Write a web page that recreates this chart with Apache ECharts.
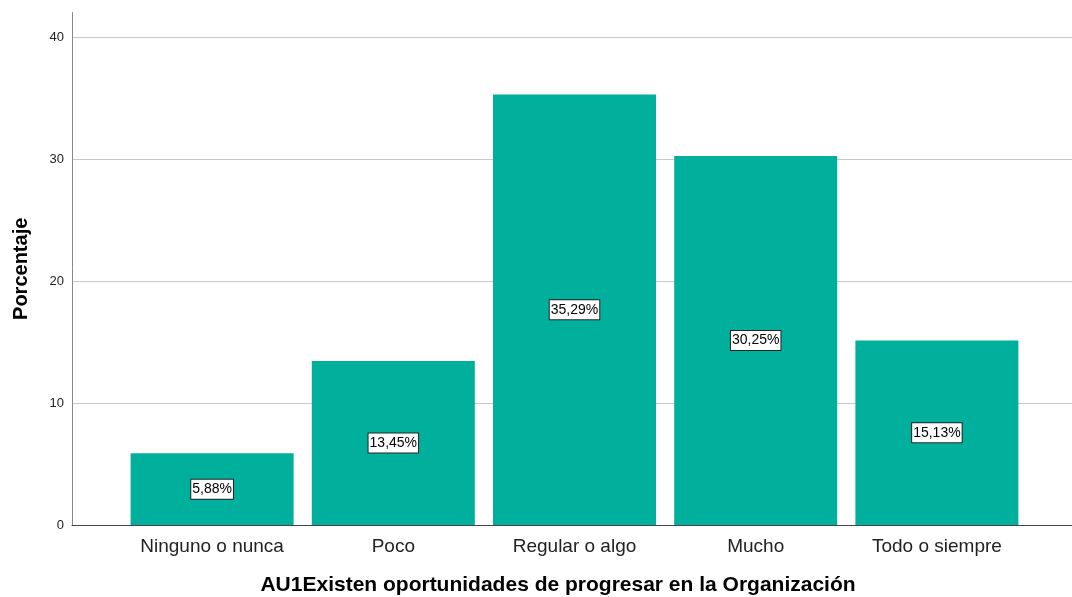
<!DOCTYPE html>
<html>
<head>
<meta charset="utf-8">
<script src="https://cdn.jsdelivr.net/npm/echarts@6/dist/echarts.min.js"></script>
<style>
  html, body { margin: 0; padding: 0; background: #fff; }
  #chart { width: 1072px; height: 597px; }
</style>
</head>
<body>
<div id="chart"></div>
<script>
var categories = ['Ninguno o nunca', 'Poco', 'Regular o algo', 'Mucho', 'Todo o siempre'];
var percentages = [5.88, 13.45, 35.29, 30.25, 15.13];
var yTicks = [0, 10, 20, 30, 40];

var font = 'Liberation Sans, Arial, sans-serif';
var myChart = echarts.init(document.getElementById('chart'));

var option = {
  backgroundColor: '#fff',
  animation: false,
  grid: [
    // axes frame
    { left: 72, right: 0, top: 12.6, bottom: 72, outerBoundsMode: 'none' },
    // bars
    { left: 121.5, right: 44.5, top: 12.6, bottom: 72, outerBoundsMode: 'none' }
  ],
  xAxis: [
    {
      gridIndex: 0, type: 'value', min: 0, max: 1,
      axisLine: { show: true, lineStyle: { color: '#444', width: 1 } },
      axisTick: { show: false }, axisLabel: { show: false }, splitLine: { show: false },
      name: 'AU1Existen oportunidades de progresar en la Organización',
      nameLocation: 'middle', nameGap: 50,
      nameTextStyle: { fontFamily: font, fontSize: 21, fontWeight: 'bold', color: '#000', padding: [0, 0, 0, -28] }
    },
    {
      gridIndex: 1, type: 'category', data: categories,
      axisLine: { show: false }, axisTick: { show: false },
      axisLabel: { fontFamily: font, fontSize: 19, color: '#222', margin: 12, interval: 0 }
    }
  ],
  yAxis: [
    {
      gridIndex: 0, type: 'value', min: 0, max: 42, interval: 10,
      axisLine: { show: true, lineStyle: { color: '#888', width: 1 } },
      axisTick: { show: false },
      axisLabel: {
        fontFamily: font, fontSize: 13, color: '#222', margin: 8,
        formatter: function (v) { return yTicks.indexOf(v) >= 0 ? String(v) : ''; }
      },
      splitLine: { show: true, showMinLine: false, showMaxLine: false, lineStyle: { color: '#c8c8c8', width: 1 } },
      name: 'Porcentaje', nameLocation: 'middle', nameGap: 41,
      nameTextStyle: { fontFamily: font, fontSize: 20, fontWeight: 'bold', color: '#000' }
    },
    {
      gridIndex: 1, type: 'value', min: 0, max: 42, show: false
    }
  ],
  series: [
    {
      type: 'bar', xAxisIndex: 1, yAxisIndex: 1,
      data: percentages,
      barWidth: 163,
      itemStyle: { color: '#00b09c' },
      label: {
        show: true, position: 'inside',
        formatter: function (p) { return p.value.toFixed(2).replace('.', ',') + '%'; },
        fontFamily: font, fontSize: 14, color: '#000',
        backgroundColor: '#fff', borderColor: '#222', borderWidth: 1,
        padding: [3, 1, 2, 1]
      }
    }
  ]
};
myChart.setOption(option);
</script>
</body>
</html>
